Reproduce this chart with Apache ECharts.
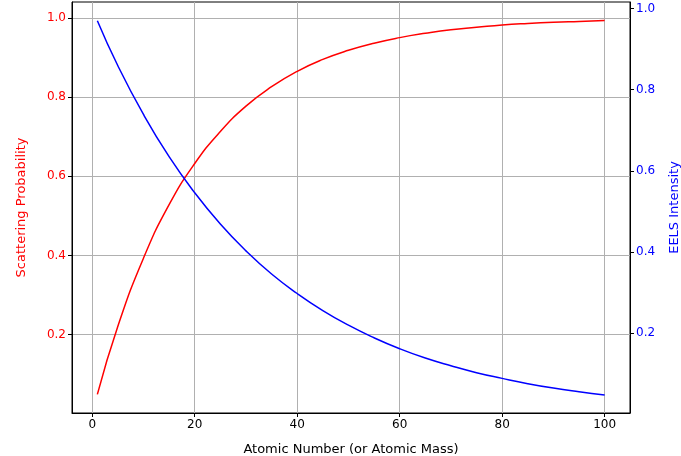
<!DOCTYPE html>
<html><head><meta charset="utf-8">
<script src="https://cdn.jsdelivr.net/npm/echarts@6/dist/echarts.min.js"></script>
<style>html,body{margin:0;padding:0;background:#fff}#c{width:681px;height:456px}</style>
</head><body><div id="c"></div>
<script>
const atomicNumber = [1,5,10,15,20,25,30,35,40,45,50,55,60,65,70,75,80,85,90,95,100];
const scatteringProb = [0.049,0.221,0.393,0.528,0.632,0.713,0.777,0.826,0.865,0.895,0.918,0.936,0.950,0.961,0.970,0.976,0.982,0.986,0.989,0.991,0.993];
const eelsIntensity = [0.970,0.859,0.739,0.635,0.546,0.469,0.403,0.346,0.298,0.256,0.220,0.189,0.162,0.139,0.120,0.103,0.089,0.076,0.065,0.056,0.048];
const xTicks = [0,20,40,60,80,100];
const leftTicks = [0.2,0.4,0.6,0.8,1.0];
const rightTicks = [0.2,0.4,0.6,0.8,1.0];
const font = 'DejaVu Sans';
const chart = echarts.init(document.getElementById('c'));
const pair = a => atomicNumber.map((x,i)=>[x,a[i]]);
chart.setOption({
  animation:false,
  grid:{left:72,right:51,top:2,bottom:43,show:true,borderColor:'#000',borderWidth:1,containLabel:false,outerBoundsMode:'none'},
  xAxis:{type:'value',min:-3.95,max:104.95,
    name:'Atomic Number (or Atomic Mass)',nameLocation:'middle',nameGap:30,
    nameTextStyle:{fontFamily:font,fontSize:13,color:'#000'},
    axisLine:{show:true,onZero:false,lineStyle:{color:'#000'}},
    axisTick:{show:true,customValues:xTicks,length:4,lineStyle:{color:'#000'}},
    axisLabel:{customValues:xTicks,fontFamily:font,fontSize:12,color:'#000',margin:6},
    splitLine:{show:true,lineStyle:{color:'#b0b0b0',width:1}}},
  yAxis:[
    {type:'value',min:0.002,max:1.04,position:'left',
     name:'Scattering Probability',nameLocation:'middle',nameGap:44,nameRotate:90,
     nameTextStyle:{fontFamily:font,fontSize:13,color:'red'},
     axisLine:{show:true,onZero:false,lineStyle:{color:'#000'}},
     axisTick:{show:true,customValues:leftTicks,length:4,lineStyle:{color:'#000'}},
     axisLabel:{customValues:leftTicks,fontFamily:font,fontSize:12,color:'red',margin:6,formatter:v=>v.toFixed(1)},
     splitLine:{show:true,lineStyle:{color:'#b0b0b0',width:1}}},
    {type:'value',min:0.0037,max:1.016,position:'right',
     name:'EELS Intensity',nameLocation:'middle',nameGap:38,nameRotate:90,
     nameTextStyle:{fontFamily:font,fontSize:13,color:'blue'},
     axisLine:{show:true,onZero:false,lineStyle:{color:'#000'}},
     axisTick:{show:true,customValues:rightTicks,length:4,lineStyle:{color:'#000'}},
     axisLabel:{customValues:rightTicks,fontFamily:font,fontSize:12,color:'blue',margin:6,formatter:v=>v.toFixed(1)},
     splitLine:{show:false}}
  ],
  series:[
    {type:'line',yAxisIndex:0,data:pair(scatteringProb),smooth:0.5,showSymbol:false,lineStyle:{color:'red',width:1.5},itemStyle:{color:'red'}},
    {type:'line',yAxisIndex:1,data:pair(eelsIntensity),smooth:0.5,showSymbol:false,lineStyle:{color:'blue',width:1.5},itemStyle:{color:'blue'}}
  ]
});
</script></body></html>
